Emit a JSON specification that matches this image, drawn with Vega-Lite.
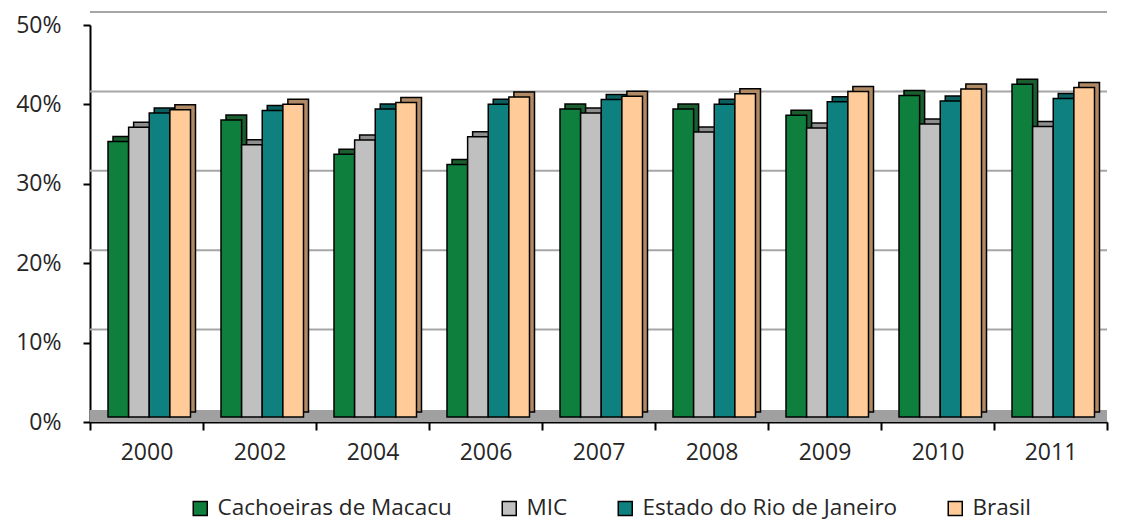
{
  "$schema": "https://vega.github.io/schema/vega-lite/v6.json",
  "width": 1017,
  "height": 397,
  "autosize": {"type": "none"},
  "padding": {"left": 90, "top": 25, "right": 15, "bottom": 101},
  "background": "white",
  "config": {
    "view": {"stroke": null},
    "font": "Open Sans",
    "axis": {"labelFont": "Open Sans", "labelColor": "#262626", "labelFontSize": 23, "domainColor": "#000000", "domainWidth": 2, "tickColor": "#000000", "tickWidth": 2, "grid": false, "title": null, "zindex": 2}
  },
  "datasets": {
    "bars": [
      {"year": "2000", "series": "Cachoeiras de Macacu", "value": 0.347},
      {"year": "2000", "series": "MIC", "value": 0.365},
      {"year": "2000", "series": "Estado do Rio de Janeiro", "value": 0.383},
      {"year": "2000", "series": "Brasil", "value": 0.387},
      {"year": "2002", "series": "Cachoeiras de Macacu", "value": 0.374},
      {"year": "2002", "series": "MIC", "value": 0.343},
      {"year": "2002", "series": "Estado do Rio de Janeiro", "value": 0.386},
      {"year": "2002", "series": "Brasil", "value": 0.394},
      {"year": "2004", "series": "Cachoeiras de Macacu", "value": 0.331},
      {"year": "2004", "series": "MIC", "value": 0.349},
      {"year": "2004", "series": "Estado do Rio de Janeiro", "value": 0.388},
      {"year": "2004", "series": "Brasil", "value": 0.396},
      {"year": "2006", "series": "Cachoeiras de Macacu", "value": 0.318},
      {"year": "2006", "series": "MIC", "value": 0.353},
      {"year": "2006", "series": "Estado do Rio de Janeiro", "value": 0.394},
      {"year": "2006", "series": "Brasil", "value": 0.403},
      {"year": "2007", "series": "Cachoeiras de Macacu", "value": 0.388},
      {"year": "2007", "series": "MIC", "value": 0.383},
      {"year": "2007", "series": "Estado do Rio de Janeiro", "value": 0.400},
      {"year": "2007", "series": "Brasil", "value": 0.404},
      {"year": "2008", "series": "Cachoeiras de Macacu", "value": 0.388},
      {"year": "2008", "series": "MIC", "value": 0.359},
      {"year": "2008", "series": "Estado do Rio de Janeiro", "value": 0.394},
      {"year": "2008", "series": "Brasil", "value": 0.407},
      {"year": "2009", "series": "Cachoeiras de Macacu", "value": 0.380},
      {"year": "2009", "series": "MIC", "value": 0.364},
      {"year": "2009", "series": "Estado do Rio de Janeiro", "value": 0.397},
      {"year": "2009", "series": "Brasil", "value": 0.410},
      {"year": "2010", "series": "Cachoeiras de Macacu", "value": 0.405},
      {"year": "2010", "series": "MIC", "value": 0.369},
      {"year": "2010", "series": "Estado do Rio de Janeiro", "value": 0.398},
      {"year": "2010", "series": "Brasil", "value": 0.413},
      {"year": "2011", "series": "Cachoeiras de Macacu", "value": 0.419},
      {"year": "2011", "series": "MIC", "value": 0.366},
      {"year": "2011", "series": "Estado do Rio de Janeiro", "value": 0.401},
      {"year": "2011", "series": "Brasil", "value": 0.415}
    ],
    "grid": [{"v": 0.1}, {"v": 0.2}, {"v": 0.3}, {"v": 0.4}, {"v": 0.5}],
    "floor": [{"v": 0}]
  },
  "layer": [
    {
      "data": {"name": "floor"},
      "mark": {"type": "rule", "color": "#a0a0a0", "strokeWidth": 12, "yOffset": -6},
      "encoding": {"y": {"field": "v", "type": "quantitative", "scale": {"domain": [0, 0.5], "nice": false}, "axis": {"values": [0, 0.1, 0.2, 0.3, 0.4, 0.5], "format": ".0%", "tickSize": 7, "labelPadding": 22}}}
    },
    {
      "data": {"name": "grid"},
      "mark": {"type": "rule", "color": "#a6a6a6", "strokeWidth": 2, "yOffset": -13},
      "encoding": {"y": {"field": "v", "type": "quantitative"}}
    },
    {
      "data": {"name": "bars"},
      "mark": {"type": "bar", "stroke": "#000000", "strokeWidth": 1.5, "yOffset": -10, "y2Offset": -10},
      "encoding": {
        "x": {"field": "year", "type": "nominal", "scale": {"paddingInner": 0, "paddingOuter": 0}, "axis": {"labelAngle": 0, "tickBand": "extent", "tickSize": 8, "labelPadding": 11, "labelBaseline": "top"}},
        "xOffset": {"field": "series", "type": "nominal", "scale": {"domain": ["Cachoeiras de Macacu", "MIC", "Estado do Rio de Janeiro", "Brasil"], "range": [23, 105.5], "paddingInner": 0, "paddingOuter": 0}},
        "y": {"field": "value", "type": "quantitative"},
        "color": {"field": "series", "type": "nominal", "legend": null, "scale": {"domain": ["Cachoeiras de Macacu", "MIC", "Estado do Rio de Janeiro", "Brasil"], "range": ["#1b5e30", "#8e8e8e", "#0b5f5f", "#b08a64"]}}
      }
    },
    {
      "data": {"name": "bars"},
      "mark": {"type": "bar", "stroke": "#000000", "strokeWidth": 1.5, "yOffset": -5, "y2Offset": -5},
      "encoding": {
        "x": {"field": "year", "type": "nominal"},
        "xOffset": {"field": "series", "type": "nominal", "scale": {"domain": ["Cachoeiras de Macacu", "MIC", "Estado do Rio de Janeiro", "Brasil"], "range": [18, 100.5], "paddingInner": 0, "paddingOuter": 0}},
        "y": {"field": "value", "type": "quantitative"},
        "color": {
          "field": "series", "type": "nominal",
          "scale": {"domain": ["Cachoeiras de Macacu", "MIC", "Estado do Rio de Janeiro", "Brasil"], "range": ["#0f7f3e", "#c0c0c0", "#0e8080", "#ffcc99"]},
          "legend": {"title": null, "orient": "none", "direction": "horizontal", "legendX": 99, "legendY": 472, "symbolType": "square", "symbolSize": 196, "symbolStrokeColor": "#000000", "symbolStrokeWidth": 1.5, "labelFont": "Open Sans", "labelFontSize": 22.5, "labelColor": "#262626", "labelOffset": 6, "columnPadding": 46, "labelLimit": 400}
        }
      }
    }
  ],
  "resolve": {"scale": {"color": "independent", "xOffset": "independent"}}
}
